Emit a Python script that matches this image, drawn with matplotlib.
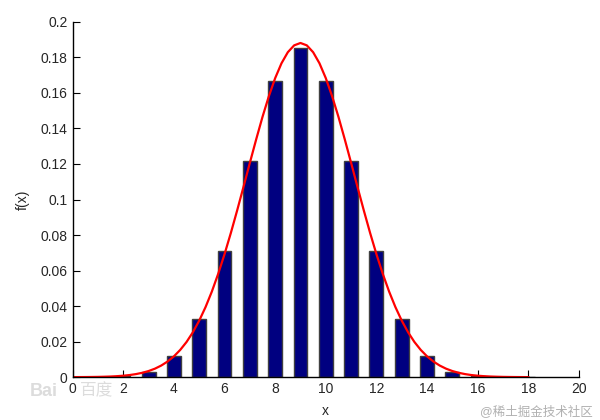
import matplotlib
matplotlib.use("Agg")
import matplotlib.pyplot as plt

# bar data (probabilities)
x_vals = list(range(0, 19))
f_vals = [0.000004, 0.00007, 0.00058, 0.0031, 0.0117, 0.0327, 0.0708, 0.1214,
          0.1669, 0.1855, 0.1669, 0.1214, 0.0708, 0.0327, 0.0117, 0.0031,
          0.00058, 0.00007, 0.000004]

# red curve points (every 0.25 from 0 to 18)
curve_x = [i * 0.25 for i in range(0, 73)]
curve_y = [0.00002, 0.00004, 0.00006, 0.0001, 0.00015, 0.00024, 0.00036, 0.00055,
           0.00081, 0.00119, 0.00172, 0.00245, 0.00344, 0.00477, 0.00653, 0.0088,
           0.0117, 0.01533, 0.0198, 0.02527, 0.0318, 0.03942, 0.0482, 0.05816,
           0.0692, 0.08117, 0.0939, 0.10715, 0.1206, 0.13382, 0.1465, 0.15809,
           0.1683, 0.17667, 0.1829, 0.18676, 0.1881,
           0.18676, 0.1829, 0.17667, 0.1683, 0.15809, 0.1465, 0.13382, 0.1206,
           0.10715, 0.0939, 0.08117, 0.0692, 0.05816, 0.0482, 0.03942, 0.0318,
           0.02527, 0.0198, 0.01533, 0.0117, 0.0088, 0.00653, 0.00477, 0.00344,
           0.00245, 0.00172, 0.00119, 0.00081, 0.00055, 0.00036, 0.00024, 0.00015,
           0.0001, 0.00006, 0.00004, 0.00002]

x_ticks = [0, 2, 4, 6, 8, 10, 12, 14, 16, 18, 20]
y_ticks = [0, 0.02, 0.04, 0.06, 0.08, 0.1, 0.12, 0.14, 0.16, 0.18, 0.2]
y_tick_labels = ["0", "0.02", "0.04", "0.06", "0.08", "0.1", "0.12", "0.14", "0.16", "0.18", "0.2"]

plt.rcParams['font.family'] = ['Liberation Sans', 'Noto Sans CJK SC', 'DejaVu Sans']

fig = plt.figure(figsize=(6, 4.2), dpi=100)
ax = fig.add_axes([0.121, 0.102, 0.844, 0.846])

ax.bar(x_vals, f_vals, width=0.55, color='#000080', edgecolor='#404040', linewidth=1.0, zorder=2)
ax.plot(curve_x, curve_y, color='red', linewidth=1.6, zorder=3)

ax.set_xlim(0, 20)
ax.set_ylim(0, 0.2)
ax.set_xticks(x_ticks)
ax.set_yticks(y_ticks)
ax.set_yticklabels(y_tick_labels)
ax.tick_params(direction='in', length=5, width=0.8, labelsize=10, colors='black', labelcolor='#262626')
ax.spines['top'].set_visible(False)
ax.spines['right'].set_visible(False)
for s in ['left', 'bottom']:
    ax.spines[s].set_linewidth(1.0)
    ax.spines[s].set_zorder(4)

ax.set_xlabel('x', fontsize=10, color='#262626', labelpad=6)
ax.set_ylabel('f(x)', fontsize=10, color='#262626', labelpad=8)

fig.text(0.05, 0.058, 'Bai', fontsize=13, color='#dcdcdc', fontweight='bold', zorder=10)
fig.text(0.133, 0.058, '百度', fontsize=12, color='#dcdcdc', zorder=10)
fig.text(0.80, 0.012, '@稀土掘金技术社区', fontsize=9, color='#b0b0b0')

fig.savefig('out.png', dpi=100)
